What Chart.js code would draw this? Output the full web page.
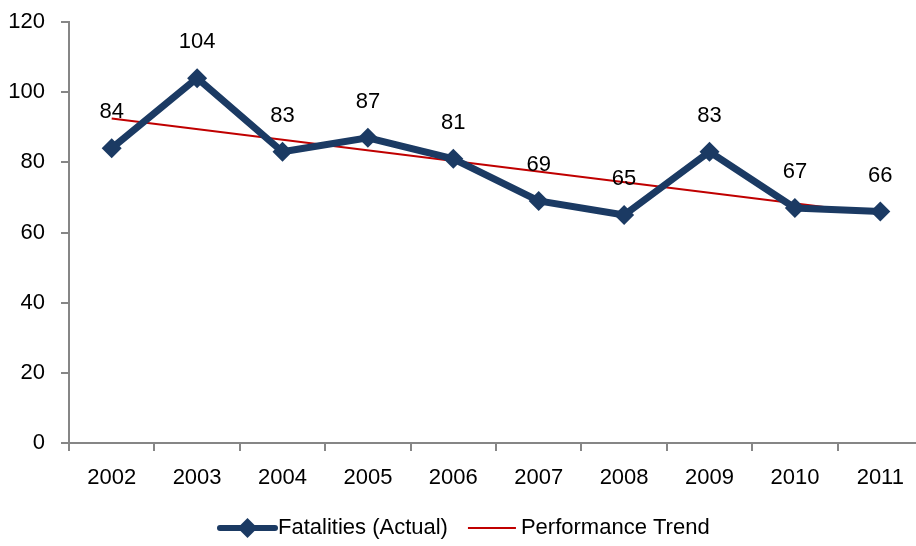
<!DOCTYPE html>
<html>
<head>
<meta charset="utf-8">
<title>Fatalities</title>
<script src="https://cdn.jsdelivr.net/npm/chart.js@4.4.1/dist/chart.umd.min.js"></script>
<style>
    html, body { margin: 0; padding: 0; background: #fff; overflow: hidden; }
    #wrap { width: 916px; height: 546px; overflow: hidden; }
    #wrap canvas { display: block; }
</style>
</head>
<body>
<div id="wrap"><canvas id="myChart" width="933" height="546"></canvas></div>
<script>
    const years = ['2002', '2003', '2004', '2005', '2006', '2007', '2008', '2009', '2010', '2011'];
    const fatalities = [84, 104, 83, 87, 81, 69, 65, 83, 67, 66];
    // trend line only has its two ends
    const trend = [92.5, null, null, null, null, null, null, null, null, 65.3];
    const yTicks = [0, 20, 40, 60, 80, 100, 120];

    const navy = '#1B3A63';
    const red = '#C00000';
    const grey = '#868686';
    const fontFam = '"Liberation Sans", Arial, sans-serif';
    const fontSize = 22;

    // numbers over the points
    const valueLabels = {
        id: 'valueLabels',
        afterDatasetsDraw(chart) {
            let ctx = chart.ctx;
            let meta = chart.getDatasetMeta(0);
            ctx.save();
            ctx.font = fontSize + 'px ' + fontFam;
            ctx.fillStyle = '#000';
            ctx.textAlign = 'center';
            ctx.textBaseline = 'middle';
            meta.data.forEach(function (pt, i) {
                ctx.fillText(fatalities[i], pt.x, pt.y - 36);
            });
            ctx.restore();
        }
    };

    // legend drawn by hand: line + diamond, then red line
    const bottomLegend = {
        id: 'bottomLegend',
        afterDraw(chart) {
            let ctx = chart.ctx;
            let y = 528;
            ctx.save();
            ctx.font = fontSize + 'px ' + fontFam;
            ctx.textBaseline = 'middle';

            let x = 220;
            ctx.strokeStyle = navy;
            ctx.lineWidth = 6;
            ctx.lineCap = 'round';
            ctx.beginPath();
            ctx.moveTo(x, y);
            ctx.lineTo(x + 55, y);
            ctx.stroke();
            ctx.fillStyle = navy;
            ctx.beginPath();
            ctx.moveTo(x + 27.5, y - 10);
            ctx.lineTo(x + 37.5, y);
            ctx.lineTo(x + 27.5, y + 10);
            ctx.lineTo(x + 17.5, y);
            ctx.closePath();
            ctx.fill();
            ctx.fillStyle = '#000';
            ctx.textAlign = 'left';
            let t1 = 'Fatalities (Actual)';
            ctx.fillText(t1, x + 58, y);
            x = x + 58 + ctx.measureText(t1).width + 20;

            ctx.strokeStyle = red;
            ctx.lineWidth = 2;
            ctx.lineCap = 'butt';
            ctx.beginPath();
            ctx.moveTo(x, y);
            ctx.lineTo(x + 48, y);
            ctx.stroke();
            ctx.fillText('Performance Trend', x + 53, y);
            ctx.restore();
        }
    };

    new Chart(document.getElementById('myChart'), {
        type: 'line',
        data: {
            labels: years,
            datasets: [{
                label: 'Fatalities (Actual)',
                data: fatalities,
                borderColor: navy,
                backgroundColor: navy,
                borderWidth: 7,
                pointStyle: 'rectRot',
                pointRadius: 10,
                pointHoverRadius: 10,
                pointBorderWidth: 0,
                tension: 0
            }, {
                label: 'Performance Trend',
                data: trend,
                borderColor: red,
                backgroundColor: red,
                borderWidth: 2,
                pointRadius: 0,
                spanGaps: true,
                tension: 0
            }]
        },
        options: {
            responsive: false,
            animation: false,
            layout: { padding: { top: 22, bottom: 53, left: 0, right: 0 } },
            plugins: {
                legend: { display: false },
                tooltip: { enabled: false }
            },
            scales: {
                x: {
                    offset: true,
                    grid: {
                        offset: true,
                        drawOnChartArea: false,
                        color: grey,
                        lineWidth: 2,
                        tickLength: 8
                    },
                    border: { color: grey, width: 2 },
                    ticks: {
                        color: '#000',
                        font: { family: fontFam, size: fontSize },
                        padding: 14,
                        maxRotation: 0,
                        autoSkip: false
                    },
                    afterFit(scale) { scale.height = 50; }
                },
                y: {
                    min: 0,
                    max: 120,
                    afterBuildTicks(scale) {
                        scale.ticks = yTicks.map(v => ({ value: v }));
                    },
                    grid: {
                        drawOnChartArea: false,
                        color: grey,
                        lineWidth: 2,
                        tickLength: 8
                    },
                    border: { color: grey, width: 2 },
                    ticks: {
                        color: '#000',
                        font: { family: fontFam, size: fontSize },
                        padding: 16
                    },
                    afterFit(scale) {
                        scale.width = 69;
                        scale.paddingTop = 0;
                        scale.paddingBottom = 0;
                    }
                }
            }
        },
        plugins: [valueLabels, bottomLegend]
    });
</script>
</body>
</html>
